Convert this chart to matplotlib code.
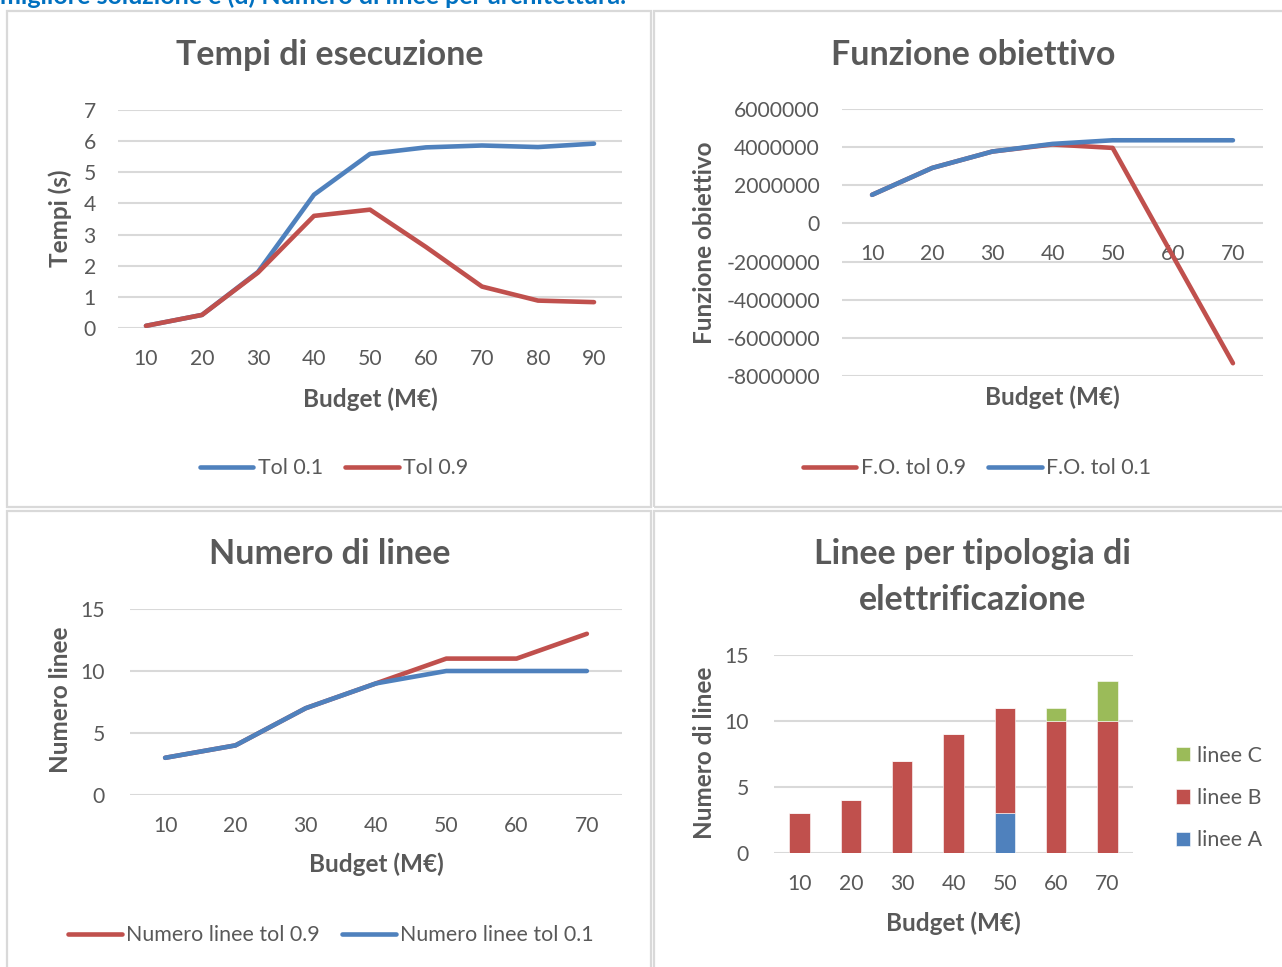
import matplotlib
matplotlib.use("Agg")
import matplotlib.pyplot as plt
from matplotlib.patches import Rectangle

plt.rcParams["font.family"] = ["Lato", "DejaVu Sans"]

W, H = 1282, 967

# ---- data ----
budget_9 = ["10", "20", "30", "40", "50", "60", "70", "80", "90"]
tempi_tol01 = [0.07, 0.42, 1.80, 4.28, 5.59, 5.80, 5.86, 5.81, 5.92]
tempi_tol09 = [0.07, 0.42, 1.78, 3.60, 3.80, 2.60, 1.33, 0.88, 0.83]

budget_7 = ["10", "20", "30", "40", "50", "60", "70"]
fo_tol09 = [1.50e6, 2.91e6, 3.77e6, 4.14e6, 3.96e6, -1.70e6, -7.33e6]
fo_tol01 = [1.50e6, 2.91e6, 3.77e6, 4.17e6, 4.36e6, 4.36e6, 4.36e6]

linee_tol09 = [3, 4, 7, 9, 11, 11, 13]
linee_tol01 = [3, 4, 7, 9, 10, 10, 10]

linee_A = [0, 0, 0, 0, 3, 0, 0]
linee_B = [3, 4, 7, 9, 8, 10, 10]
linee_C = [0, 0, 0, 0, 0, 1, 3]

BLUE = "#4F81BD"
RED = "#C0504D"
GREEN = "#9BBB59"
TXT = "#595959"
GRID = "#D9D9D9"

TICK_FS = 15.2
LEG_FS = 15.4
LAB_FS = 17.5
TITLE_FS = 24.5


def px_rect(l, t, r, b):
    return [l / W, 1 - b / H, (r - l) / W, (b - t) / H]


def fx(x):
    return x / W


def fy(y):
    return 1 - y / H


def style_axes(ax, n, ylim, yticks, ylabels=None, xpad=15, ypad=16):
    ax.set_xlim(-0.5, n - 0.5)
    ax.set_ylim(*ylim)
    ax.set_yticks(yticks)
    if ylabels is not None:
        ax.set_yticklabels(ylabels)
    for s in ax.spines.values():
        s.set_visible(False)
    ax.yaxis.grid(True, color=GRID, lw=1.5)
    ax.set_axisbelow(True)
    ax.tick_params(axis="both", length=0, labelsize=TICK_FS, labelcolor=TXT)
    ax.tick_params(axis="x", pad=xpad)
    ax.tick_params(axis="y", pad=ypad)


def add_legend(ax, cx, cy):
    ax.legend(loc="center", bbox_to_anchor=(fx(cx), fy(cy)),
              bbox_transform=fig.transFigure, ncol=2, frameon=False,
              fontsize=LEG_FS, labelcolor=TXT, handlelength=2.5,
              handletextpad=0.2, columnspacing=1.05)


fig = plt.figure(figsize=(W / 100, H / 100), dpi=100)

# panel borders
for (l, t, r, b) in [(7, 11, 651, 507), (654, 11, 1290, 507),
                     (7, 511, 651, 975), (654, 511, 1290, 975)]:
    fig.add_artist(Rectangle((fx(l), fy(b)), (r - l) / W, (b - t) / H,
                             transform=fig.transFigure, fill=False,
                             edgecolor=GRID, lw=1.6))

# caption above the charts, cut off at the top edge as in the source page
fig.text(0.0, fy(4), "migliore soluzione e (d) Numero di linee per architettura.",
         color="#0070C0", fontsize=18, fontweight="bold", va="baseline")

# ---- Tempi di esecuzione ----
ax1 = fig.add_axes(px_rect(118, 110, 622, 328))
x9 = range(len(budget_9))
ax1.plot(x9, tempi_tol01, color=BLUE, lw=3.3, solid_capstyle="round", label="Tol 0.1")
ax1.plot(x9, tempi_tol09, color=RED, lw=3.3, solid_capstyle="round", label="Tol 0.9")
style_axes(ax1, len(budget_9), (0, 7), range(0, 8))
ax1.set_xticks(list(x9))
ax1.set_xticklabels(budget_9)
fig.text(fx(330), fy(55), "Tempi di esecuzione", ha="center", va="center",
         fontsize=TITLE_FS, fontweight="bold", color=TXT)
fig.text(fx(60), fy(218), "Tempi (s)", rotation=90, ha="center", va="center",
         fontsize=LAB_FS, fontweight="bold", color=TXT)
fig.text(fx(370), fy(399), "Budget (M€)", ha="center", va="center",
         fontsize=LAB_FS, fontweight="bold", color=TXT)
add_legend(ax1, 334, 468)

# ---- Funzione obiettivo ----
ax2 = fig.add_axes(px_rect(842, 109, 1263, 376))
x7 = range(len(budget_7))
ax2.plot(x7, fo_tol09, color=RED, lw=3.3, solid_capstyle="round", label="F.O. tol 0.9")
ax2.plot(x7, fo_tol01, color=BLUE, lw=3.3, solid_capstyle="round", label="F.O. tol 0.1")
fo_ticks = list(range(-8000000, 6000001, 2000000))
style_axes(ax2, len(budget_7), (-8e6, 6e6), fo_ticks, [str(v) for v in fo_ticks])
ax2.spines["bottom"].set_position(("data", 0))
ax2.set_xticks(list(x7))
ax2.set_xticklabels(budget_7)
fig.text(fx(973), fy(55), "Funzione obiettivo", ha="center", va="center",
         fontsize=TITLE_FS, fontweight="bold", color=TXT)
fig.text(fx(705), fy(243), "Funzione obiettivo", rotation=90, ha="center",
         va="center", fontsize=LAB_FS, fontweight="bold", color=TXT)
fig.text(fx(1052), fy(397), "Budget (M€)", ha="center", va="center",
         fontsize=LAB_FS, fontweight="bold", color=TXT)
add_legend(ax2, 977, 468)

# ---- Numero di linee ----
ax3 = fig.add_axes(px_rect(130, 609, 622, 795))
ax3.plot(x7, linee_tol09, color=RED, lw=3.3, solid_capstyle="round",
         label="Numero linee tol 0.9")
ax3.plot(x7, linee_tol01, color=BLUE, lw=3.3, solid_capstyle="round",
         label="Numero linee tol 0.1")
style_axes(ax3, len(budget_7), (0, 15), [0, 5, 10, 15], ypad=18)
ax3.set_xticks(list(x7))
ax3.set_xticklabels(budget_7)
fig.text(fx(330), fy(554), "Numero di linee", ha="center", va="center",
         fontsize=TITLE_FS, fontweight="bold", color=TXT)
fig.text(fx(60), fy(700), "Numero linee", rotation=90, ha="center", va="center",
         fontsize=LAB_FS, fontweight="bold", color=TXT)
fig.text(fx(376), fy(864), "Budget (M€)", ha="center", va="center",
         fontsize=LAB_FS, fontweight="bold", color=TXT)
add_legend(ax3, 331, 935)

# ---- Linee per tipologia di elettrificazione ----
ax4 = fig.add_axes(px_rect(774, 655, 1133, 853))
bw = 0.4
bA = ax4.bar(x7, linee_A, bw, color=BLUE, edgecolor="white", lw=0.4, label="linee A")
bB = ax4.bar(x7, linee_B, bw, bottom=linee_A, color=RED, edgecolor="white",
             lw=0.4, label="linee B")
bottom_C = [a + b for a, b in zip(linee_A, linee_B)]
bC = ax4.bar(x7, linee_C, bw, bottom=bottom_C, color=GREEN, edgecolor="white",
             lw=0.4, label="linee C")
style_axes(ax4, len(budget_7), (0, 15), [0, 5, 10, 15], ypad=18)
ax4.set_xticks(list(x7))
ax4.set_xticklabels(budget_7)
fig.text(fx(973), fy(554), "Linee per tipologia di", ha="center", va="center",
         fontsize=TITLE_FS, fontweight="bold", color=TXT)
fig.text(fx(973), fy(600), "elettrificazione", ha="center", va="center",
         fontsize=TITLE_FS, fontweight="bold", color=TXT)
fig.text(fx(705), fy(753), "Numero di linee", rotation=90, ha="center",
         va="center", fontsize=LAB_FS, fontweight="bold", color=TXT)
fig.text(fx(953), fy(923), "Budget (M€)", ha="center", va="center",
         fontsize=LAB_FS, fontweight="bold", color=TXT)
ax4.legend([bC, bB, bA], ["linee C", "linee B", "linee A"], loc="center left",
           bbox_to_anchor=(fx(1157), fy(798)), bbox_transform=fig.transFigure,
           frameon=False, fontsize=LEG_FS, labelcolor=TXT, handlelength=0.65,
           handleheight=0.65, handletextpad=0.3, labelspacing=1.05)

fig.savefig("out.png", dpi=100)
